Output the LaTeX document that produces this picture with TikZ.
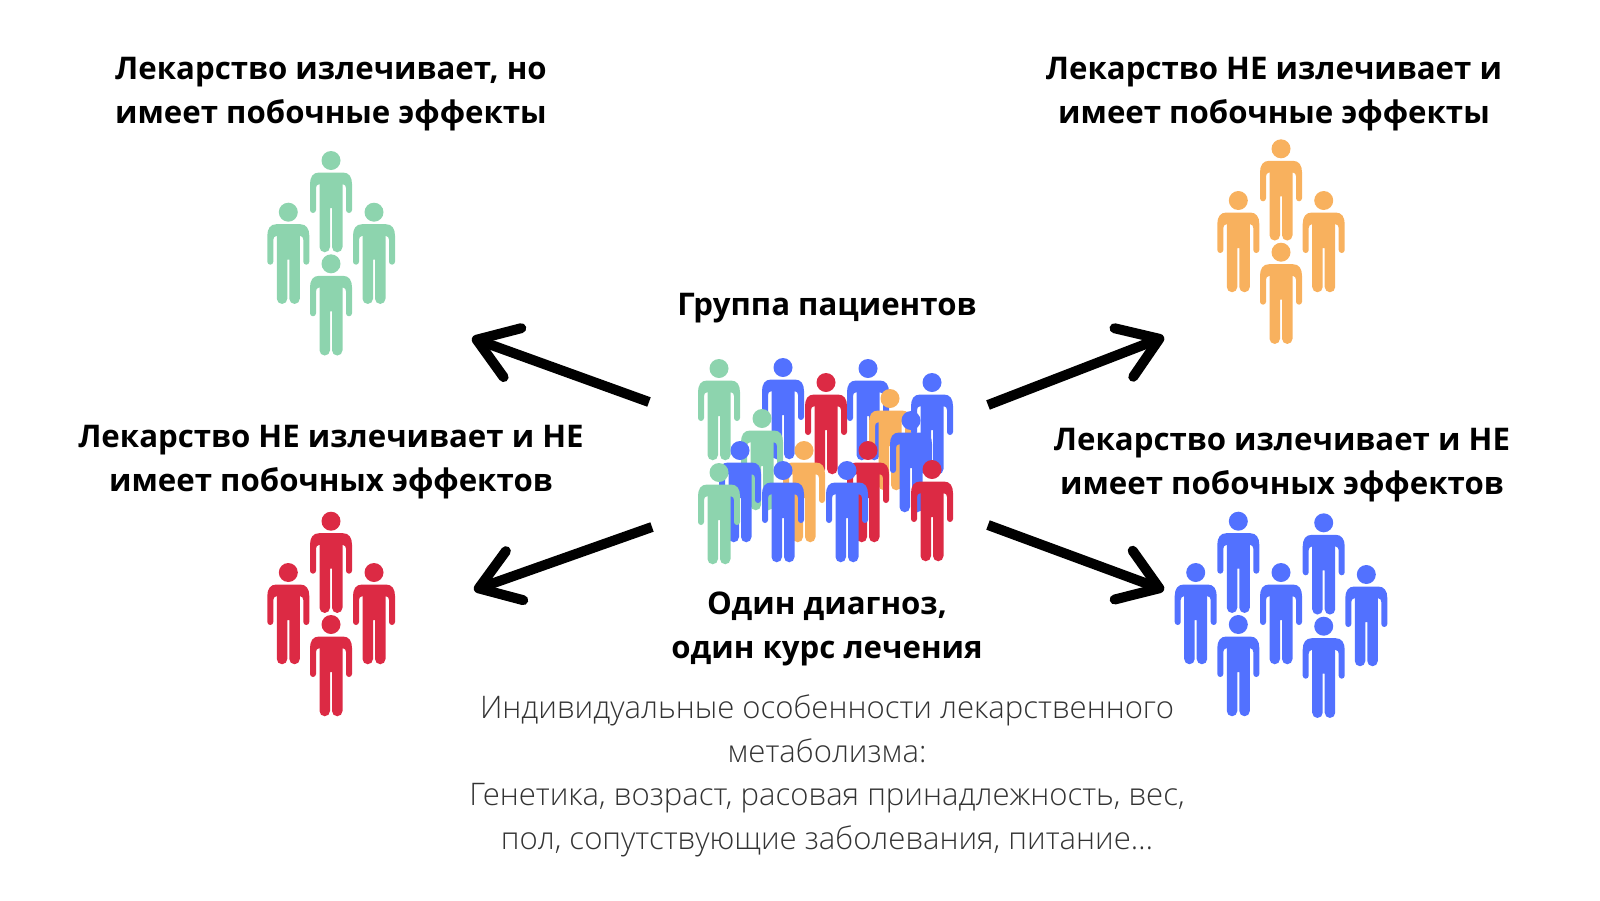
\documentclass[tikz,border=0pt]{standalone}
\usepackage{fontspec}
\usetikzlibrary{arrows.meta}
\setmainfont{Open Sans}
\newfontfamily\lightfont[UprightFont={* Light}]{Open Sans}
\definecolor{cured}{HTML}{8DD4AE}
\definecolor{failed}{HTML}{F8B15E}
\definecolor{neutral}{HTML}{DC2A44}
\definecolor{ideal}{HTML}{5271FF}
\tikzset{
  person/.pic={
    \fill[pic actions] (0,9.5) circle (9.5);
    \fill[pic actions] (-12,21.5) .. controls (-18,21.5) and (-21,26) .. (-21,33)
      -- (-21,59) arc (180:0:3) -- (-15,37) .. controls (-15,35) and (-14,33.5) .. (-11.5,33)
      -- (-11.5,96) arc (180:0:5.25) -- (-1,57) -- (1,57)
      -- (1,96) arc (180:0:5.25) -- (11.5,33) .. controls (14,33.5) and (15,35) .. (15,37)
      -- (15,59) arc (180:0:3) -- (21,33) .. controls (21,26) and (18,21.5) .. (12,21.5) -- cycle;
  },
  heading/.style={font=\bfseries\fontsize{31.2}{44}\selectfont, align=center, text=black},
  note/.style={font=\lightfont\fontsize{31.1}{43.6}\selectfont, align=center, text=black!80},
  outcome/.style={line width=10pt, -{Straight Barb[length=38pt,width=52pt,round]}}
}
\begin{document}
\begin{tikzpicture}[x=1pt,y=-1pt]
  \useasboundingbox (0,0) rectangle (1600,900);
  % Define labels
  \node[heading] (labelNW) at (331,94) {Лекарство излечивает, но\\имеет побочные эффекты};
  \node[heading] (labelNE) at (1274,94) {Лекарство НЕ излечивает и\\имеет побочные эффекты};
  \node[heading] (labelSW) at (331,462) {Лекарство НЕ излечивает и НЕ\\имеет побочных эффектов};
  \node[heading] (labelSE) at (1282,465) {Лекарство излечивает и НЕ\\имеет побочных эффектов};
  \node[heading] (labelTop) at (827,308) {Группа пациентов};
  \node[heading] (labelBottom) at (827,629) {Один диагноз,\\один курс лечения};
  \node[note] (labelNote) at (827,776) {Индивидуальные особенности лекарственного\\метаболизма:\\Генетика, возраст, расовая принадлежность, вес,\\пол, сопутствующие заболевания, питание\dots};
  % Define groups
  \pic[fill=cured] (nwA) at (331,151) {person};
  \pic[fill=cured] (nwB) at (288.3,202.7) {person};
  \pic[fill=cured] (nwC) at (374,202.7) {person};
  \pic[fill=cured] (nwD) at (331,254.3) {person};
  \pic[fill=failed] (neA) at (1281,139.3) {person};
  \pic[fill=failed] (neB) at (1238.3,191) {person};
  \pic[fill=failed] (neC) at (1323.7,191) {person};
  \pic[fill=failed] (neD) at (1281,242.7) {person};
  \pic[fill=neutral] (swA) at (331,511.7) {person};
  \pic[fill=neutral] (swB) at (288.3,563) {person};
  \pic[fill=neutral] (swC) at (374,563) {person};
  \pic[fill=neutral] (swD) at (331,615) {person};
  \pic[fill=ideal] (seA) at (1238.3,511.7) {person};
  \pic[fill=ideal] (seB) at (1195.7,563) {person};
  \pic[fill=ideal] (seC) at (1281,563) {person};
  \pic[fill=ideal] (seD) at (1238.3,615) {person};
  \pic[fill=ideal] (seE) at (1323.7,513.3) {person};
  \pic[fill=ideal] (seF) at (1366.3,565) {person};
  \pic[fill=ideal] (seG) at (1323.7,616.7) {person};
  % Define crowd
  \pic[fill=cured] (c1) at (719,359) {person};
  \pic[fill=ideal] (c2) at (783,358) {person};
  \pic[fill=neutral] (c3) at (826,373) {person};
  \pic[fill=ideal] (c4) at (868,359) {person};
  \pic[fill=failed] (c5) at (890,389) {person};
  \pic[fill=ideal] (c6) at (932,373) {person};
  \pic[fill=cured] (c7) at (762,409) {person};
  \pic[fill=ideal] (c8) at (911,411) {person};
  \pic[fill=ideal] (c9) at (740,441) {person};
  \pic[fill=failed] (c10) at (804,441) {person};
  \pic[fill=neutral] (c11) at (868,441) {person};
  \pic[fill=cured] (c12) at (719,463) {person};
  \pic[fill=ideal] (c13) at (783,461) {person};
  \pic[fill=ideal] (c14) at (847,461) {person};
  \pic[fill=neutral] (c15) at (932,460) {person};
  % Define arrows
  \coordinate (tailNW) at (649,402);
  \coordinate (tipNW) at (472,338);
  \coordinate (tailNE) at (988,405);
  \coordinate (tipNE) at (1164,337);
  \coordinate (tailSW) at (652,527);
  \coordinate (tipSW) at (474,590);
  \coordinate (tailSE) at (988,525);
  \coordinate (tipSE) at (1164,590);
  \draw[outcome] (tailNW) -- (tipNW);
  \draw[outcome] (tailNE) -- (tipNE);
  \draw[outcome] (tailSW) -- (tipSW);
  \draw[outcome] (tailSE) -- (tipSE);
\end{tikzpicture}
\end{document}
